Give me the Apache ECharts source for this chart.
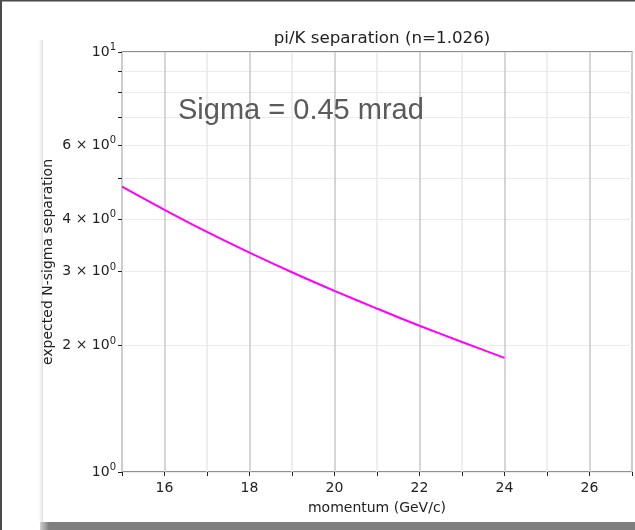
<!DOCTYPE html>
<html>
<head>
<meta charset="utf-8">
<script src="https://cdn.jsdelivr.net/npm/echarts@6/dist/echarts.min.js"></script>
<style>html,body{margin:0;padding:0;background:#fff;}#c{width:635px;height:530px;}</style>
</head>
<body>
<div id="c"></div>
<script>
var momentum = [15, 16, 17, 18, 19, 20, 21, 22, 23, 24];
var nsigma = [4.78, 4.21, 3.73, 3.33, 2.99, 2.70, 2.45, 2.23, 2.04, 1.87];
var yLabelValues = [1, 2, 3, 4, 6, 10];
var yTickValues = [1, 2, 3, 4, 5, 6, 7, 8, 9, 10];
var xLabelValues = [16, 18, 20, 22, 24, 26];
var titleText = 'pi/K separation (n=1.026)';
var noteText = 'Sigma = 0.45 mrad';

var F = 'DejaVu Sans';
var chart = echarts.init(document.getElementById('c'), null, {renderer: 'canvas'});
function yFmt(v) {
  var e = Math.floor(Math.log10(v) + 1e-9);
  var m = Math.round(v / Math.pow(10, e));
  if (m === 1) return '{b|10}{s|' + e + '}';
  return '{b|' + m + ' \u00d7 10}{s|' + e + '}';
}
chart.setOption({
  animation: false,
  backgroundColor: '#ffffff',
  title: {
    text: titleText, left: 377, top: 25, textAlign: 'center',
    textStyle: {fontFamily: F, fontSize: 16.7, fontWeight: 'normal', color: '#222'}
  },
  grid: {left: 122, right: 3, top: 52, bottom: 58, show: true, borderColor: '#222', borderWidth: 1.2, backgroundColor: 'transparent'},
  xAxis: {
    type: 'value', min: 15, max: 27, interval: 1,
    name: 'momentum (GeV/c)', nameLocation: 'middle', nameGap: 29, nameMoveOverlap: false,
    nameTextStyle: {fontFamily: F, fontSize: 14, color: '#222'},
    axisLine: {show: false},
    axisTick: {show: true, inside: false, length: 4, lineStyle: {color: '#222', width: 1}},
    axisLabel: {fontFamily: F, fontSize: 14, color: '#222', margin: 9,
      formatter: function (v) { return xLabelValues.indexOf(v) >= 0 ? String(v) : ''; }},
    splitLine: {show: true, lineStyle: {color: ['#e8e8e8', '#c8c8c8'], width: 1.5}}
  },
  yAxis: {
    type: 'log', logBase: 10, min: 1, max: 10,
    name: 'expected N-sigma separation', nameLocation: 'middle', nameGap: 67, nameMoveOverlap: false,
    nameTextStyle: {fontFamily: F, fontSize: 14, color: '#222'},
    axisLine: {show: false},
    axisTick: {show: true, length: 4, customValues: yTickValues, lineStyle: {color: '#222', width: 1}},
    axisLabel: {customValues: yLabelValues, margin: 6, formatter: yFmt,
      rich: {
        b: {fontFamily: F, fontSize: 14, color: '#222'},
        s: {fontFamily: F, fontSize: 10, color: '#222', verticalAlign: 'top', padding: [0, 0, 9, 0]}
      }},
    splitLine: {show: true, lineStyle: {color: '#ebebeb', width: 1.2}}
  },
  graphic: [
    {type: 'rect', shape: {x: 0, y: 0, width: 2, height: 530}, style: {fill: '#4a4a4a'}, z: 100},
    {type: 'rect', shape: {x: 0, y: 0, width: 635, height: 1.5}, style: {fill: '#4a4a4a'}, z: 100},
    {type: 'rect', shape: {x: 37, y: 40, width: 6, height: 482},
      style: {fill: new echarts.graphic.LinearGradient(0, 0, 1, 0, [{offset: 0, color: 'rgba(255,255,255,0)'}, {offset: 1, color: 'rgba(200,200,200,0.6)'}])}, z: -1},
    {type: 'rect', shape: {x: 40, y: 522, width: 595, height: 8},
      style: {fill: new echarts.graphic.LinearGradient(0, 0, 1, 0, [{offset: 0, color: '#d0d0d0'}, {offset: 0.015, color: '#7f7f7f'}, {offset: 1, color: '#7f7f7f'}])}, z: 100},
    {type: 'text', x: 178, y: 111, style: {text: noteText, fontFamily: 'Liberation Sans', fontSize: 29, fill: '#5a5a5a', verticalAlign: 'middle'}, z: 50}
  ],
  series: [{
    type: 'line', data: momentum.map(function (x, i) { return [x, nsigma[i]]; }),
    showSymbol: false, smooth: 0.3, lineStyle: {color: '#ff00ff', width: 2}, z: 10
  }]
});
</script>
</body>
</html>
